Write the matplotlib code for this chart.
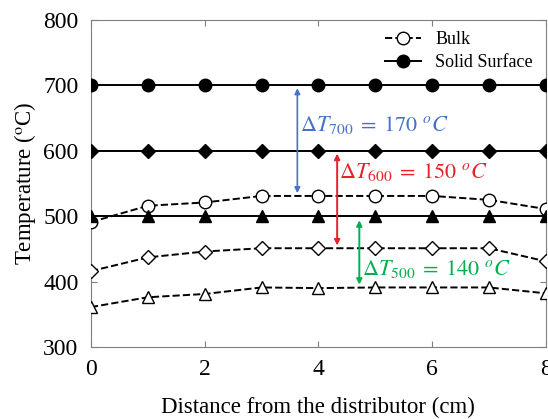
import matplotlib.pyplot as plt

plt.rcParams['font.family'] = ['Liberation Serif', 'DejaVu Serif']
plt.rcParams['mathtext.fontset'] = 'stix'

x = [0, 1, 2, 3, 4, 5, 6, 7, 8]

# solid surface temperatures
surf_700 = [700] * 9
surf_600 = [600] * 9
surf_500 = [500] * 9

# bulk temperatures
bulk_700 = [491, 516, 521, 531, 531, 531, 531, 525, 511]
bulk_600 = [416, 437, 446, 451, 451, 451, 451, 451, 431]
bulk_500 = [361, 376, 381, 391, 390, 391, 391, 391, 382]

fig = plt.figure(figsize=(5.48, 4.19), dpi=100)
ax = fig.add_axes([0.166, 0.172, 0.83, 0.78])

ms = 9
ax.plot(x, bulk_700, '--', color='black', lw=1.4, marker='o', ms=ms, mfc='white', mec='black', label='Bulk', zorder=3)
ax.plot(x, surf_700, '-', color='black', lw=1.4, marker='o', ms=ms, mfc='black', label='Solid Surface', zorder=3)
ax.plot(x, bulk_600, '--', color='black', lw=1.4, marker='D', ms=ms - 1.5, mfc='white', mec='black', zorder=3)
ax.plot(x, surf_600, '-', color='black', lw=1.4, marker='D', ms=ms - 1.5, mfc='black', zorder=3)
ax.plot(x, bulk_500, '--', color='black', lw=1.4, marker='^', ms=ms, mfc='white', mec='black', zorder=3)
ax.plot(x, surf_500, '-', color='black', lw=1.4, marker='^', ms=ms, mfc='black', zorder=3)

# temperature difference arrows
ax.annotate('', xy=(3.63, 700), xytext=(3.63, 531),
            arrowprops=dict(arrowstyle='<|-|>', color='#4472C4', lw=1.2, mutation_scale=8))
ax.text(3.67, 639, r'$\Delta T_{700}\;=\;170\ ^{o}C$', color='#4472C4', fontsize=16, va='center')
ax.annotate('', xy=(4.33, 600), xytext=(4.33, 451),
            arrowprops=dict(arrowstyle='<|-|>', color='#E8202A', lw=1.4, mutation_scale=8))
ax.text(4.37, 567, r'$\Delta T_{600}\;=\;150\ ^{o}C$', color='#E8202A', fontsize=16, va='center')
ax.annotate('', xy=(4.72, 498), xytext=(4.72, 391),
            arrowprops=dict(arrowstyle='<|-|>', color='#00B050', lw=1.4, mutation_scale=8))
ax.text(4.76, 419, r'$\Delta T_{500}\;=\;140\ ^{o}C$', color='#00B050', fontsize=16, va='center')

ax.set_xlim(0, 8)
ax.set_ylim(300, 800)
ax.set_xticks([0, 2, 4, 6, 8])
ax.set_yticks([300, 400, 500, 600, 700, 800])
ax.tick_params(direction='in', top=True, right=True, labelsize=17, length=4, colors='#7f7f7f',
               labelcolor='black', pad=9)
for s in ax.spines.values():
    s.set_color('#7f7f7f')

ax.set_xlabel('Distance from the distributor (cm)', fontsize=16.5, labelpad=12)
ax.set_ylabel('Temperature ($^{\\rm o}$C)', fontsize=16.5, labelpad=4)

ax.legend(loc='upper right', frameon=False, fontsize=13, handlelength=2.0,
          borderaxespad=0.2, labelspacing=0.35, bbox_to_anchor=(0.995, 1.0))

fig.savefig('out.png', dpi=100)
